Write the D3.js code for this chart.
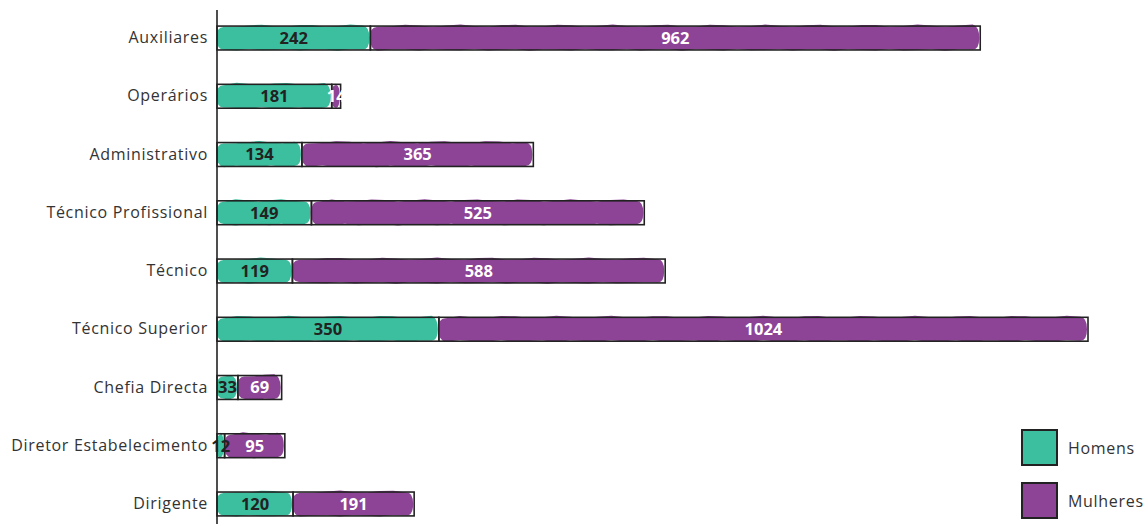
<!DOCTYPE html>
<html>
<head>
<meta charset="utf-8">
<script src="https://cdn.jsdelivr.net/npm/d3@7"></script>
<style>
  html, body { margin: 0; padding: 0; background: #fff; }
  svg { display: block; }
  text { font-family: "Open Sans", Lato, sans-serif; }
</style>
</head>
<body>
<svg id="chart" width="1148" height="524"></svg>
<script>
// Staff by career group and sex
const categories = ["Auxiliares", "Operários", "Administrativo", "Técnico Profissional",
  "Técnico", "Técnico Superior", "Chefia Directa", "Diretor Estabelecimento", "Dirigente"];
const homens   = [242, 181, 134, 149, 119, 350, 33, 12, 120];
const mulheres = [962, 14, 365, 525, 588, 1024, 69, 95, 191];
const seriesNames = ["Homens", "Mulheres"];
const colors = ["#3bbf9f", "#8d4497"];
const labelColors = ["#222222", "#ffffff"];

const W = 1148, H = 524;
const svg = d3.select("#chart");

const rows = categories.map((c, i) => ({ cat: c, Homens: homens[i], Mulheres: mulheres[i] }));
const stack = d3.stack().keys(seriesNames)(rows);

const x = d3.scaleLinear()
  .domain([0, d3.max(rows, d => d.Homens + d.Mulheres)])
  .range([217, 1088]);

const y = d3.scaleBand()
  .domain(categories)
  .range([8.9, 533.1])
  .paddingInner(0.59)
  .paddingOuter(0.295);

// Crayon-like fill: a softly rounded blob with a gently wavy top edge
function crayonPath(x0, x1, y0, h, seed) {
  const w = Math.max(x1 - x0, 1);
  const n = Math.max(2, Math.round(w / 14));
  const r = Math.min(h / 3, w / 2.2, 6);
  let p = `M${x0 + r},${y0 + 0.5}`;
  for (let k = 1; k <= n; k++) {
    const xx = x0 + r + (w - 2 * r) * k / n;
    const wob = Math.sin(k * 1.7 + seed) * 1.1 - 0.9;
    p += `L${xx},${y0 + wob}`;
  }
  p += `Q${x1 + 0.5},${y0} ${x1 + 0.5},${y0 + h / 2}`;
  p += `Q${x1 + 0.5},${y0 + h} ${x1 - r},${y0 + h}`;
  for (let k = n - 1; k >= 0; k--) {
    const xx = x0 + r + (w - 2 * r) * k / n;
    const wob = Math.sin(k * 2.3 + seed * 1.3) * 0.8 + 0.4;
    p += `L${xx},${y0 + h + wob}`;
  }
  p += `Q${x0 - 1.5},${y0 + h} ${x0 - 1.5},${y0 + h / 2}`;
  p += `Q${x0 - 1.5},${y0} ${x0 + r},${y0 + 0.5}Z`;
  return p;
}

const g = svg.append("g");

stack.forEach((layer, si) => {
  const lg = g.append("g").attr("class", "series-" + layer.key);
  layer.forEach((d, i) => {
    const cat = d.data.cat;
    const x0 = x(d[0]), x1 = x(d[1]);
    const y0 = y(cat), h = y.bandwidth();
    // fill
    lg.append("path")
      .attr("d", crayonPath(x0 + 1, x1 - 1.5, y0 + 0.5, h - 1, i * 3 + si))
      .attr("fill", colors[si]);
    // outline
    lg.append("rect")
      .attr("x", x0).attr("y", y0)
      .attr("width", x1 - x0).attr("height", h)
      .attr("fill", "none")
      .attr("stroke", "#222")
      .attr("stroke-width", 1.6);
  });
});

// value labels
stack.forEach((layer, si) => {
  layer.forEach(d => {
    const v = d[1] - d[0];
    g.append("text")
      .attr("x", (x(d[0]) + x(d[1])) / 2)
      .attr("y", y(d.data.cat) + y.bandwidth() / 2)
      .attr("dy", "0.36em")
      .attr("text-anchor", "middle")
      .attr("font-size", 16.5)
      .attr("font-weight", 700)
      .attr("fill", labelColors[si])
      .text(v);
  });
});

// category axis
const yAxis = d3.axisLeft(y).tickSize(0).tickPadding(9);
const ag = svg.append("g").attr("transform", "translate(217,0)").call(yAxis);
ag.select(".domain").remove();
ag.selectAll("text")
  .attr("font-size", 16)
  .attr("letter-spacing", "0.7px")
  .attr("fill", "#333")
  .attr("font-family", "'Open Sans', sans-serif");
svg.append("line")
  .attr("x1", 217).attr("x2", 217)
  .attr("y1", 10).attr("y2", H)
  .attr("stroke", "#222").attr("stroke-width", 1.6);

// legend
const legend = svg.append("g");
seriesNames.forEach((name, i) => {
  const ly = 430 + i * 53;
  legend.append("rect")
    .attr("x", 1023).attr("y", ly + 1)
    .attr("width", 33).attr("height", 33)
    .attr("fill", colors[i]);
  legend.append("rect")
    .attr("x", 1022).attr("y", ly)
    .attr("width", 35).attr("height", 35)
    .attr("fill", "none")
    .attr("stroke", "#222").attr("stroke-width", 2);
  legend.append("text")
    .attr("x", 1068).attr("y", ly + 18)
    .attr("dy", "0.35em")
    .attr("font-size", 16)
    .attr("letter-spacing", "0.7px")
    .attr("fill", "#333")
    .text(name);
});
</script>
</body>
</html>
